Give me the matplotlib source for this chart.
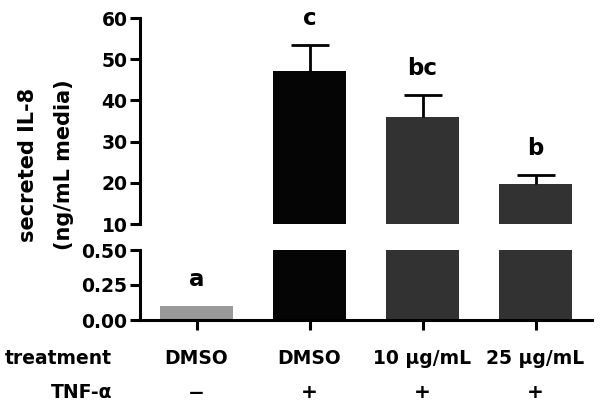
import matplotlib.pyplot as plt
import numpy as np

# IL-8 secretion per treatment group
treatments = ["DMSO", "DMSO", "10 μg/mL", "25 μg/mL"]
tnf = ["−", "+", "+", "+"]
means = [0.1, 47.1, 36.0, 19.7]
sems = [0.0, 6.3, 5.3, 2.2]
letters = ["a", "c", "bc", "b"]
colors = ["#9a9a9a", "#050505", "#323232", "#323232"]

top_ticks = [10, 20, 30, 40, 50, 60]
low_ticks = [0.00, 0.25, 0.50]

plt.rcParams['font.family'] = ['DejaVu Sans']
plt.rcParams['font.weight'] = 'bold'

fig = plt.figure(figsize=(6.01, 4.13), dpi=100)
ax_top = fig.add_axes([140 / 601, 1 - 224 / 413, 452 / 601, 206 / 413])
ax_low = fig.add_axes([140 / 601, 1 - 320 / 413, 452 / 601, 70 / 413])

x = np.arange(len(means))
lw = 2.2
px = 0.72  # points per pixel at 100 dpi

for ax in (ax_top, ax_low):
    ax.bar(x, means, width=0.65, color=colors, zorder=2)
    for i in range(len(means)):
        if sems[i] <= 0:
            continue
        _, caps, _ = ax.errorbar(x[i], means[i], yerr=[[0], [sems[i]]], fmt='none',
                                 ecolor='black', elinewidth=2, capsize=14,
                                 capthick=2, zorder=3)
        caps[0].remove()  # only the upper cap
    ax.set_xlim(-0.5, 3.5)
    ax.spines['top'].set_visible(False)
    ax.spines['right'].set_visible(False)
    ax.spines['left'].set_linewidth(lw)
    ax.spines['bottom'].set_linewidth(lw)
    ax.tick_params(axis='y', length=7, width=lw, labelsize=13.5, pad=2)
    ax.set_facecolor('none')

ax_top.set_ylim(10, 60)
ax_top.set_yticks(top_ticks)
ax_top.spines['bottom'].set_visible(False)
ax_top.set_xticks([])

ax_low.set_ylim(0, 0.5)
ax_low.set_yticks(low_ticks)
ax_low.set_yticklabels(["%.2f" % t for t in low_ticks])
ax_low.set_xticks(x)
ax_low.set_xticklabels([])
ax_low.tick_params(axis='x', length=7, width=lw)

# significance letters
for i, (m, s, l) in enumerate(zip(means, sems, letters)):
    ax = ax_low if m < 0.5 else ax_top
    ax.annotate(l, xy=(i, m + s), xytext=(0, 20 * px), textcoords='offset points',
                ha='center', va='baseline', fontsize=16.5, fontweight='bold')

# y label
fig.text(28 / 601, 1 - 165 / 413, "secreted IL-8", rotation=90, ha='center',
         va='center', fontsize=15, fontweight='bold')
fig.text(64 / 601, 1 - 165 / 413, "(ng/mL media)", rotation=90, ha='center',
         va='center', fontsize=15, fontweight='bold')

# treatment table under the axis
fig.text(112 / 601, 1 - 359 / 413, "treatment", ha='right', va='center',
         fontsize=13.5, fontweight='bold')
fig.text(112 / 601, 1 - 393 / 413, "TNF-α", ha='right', va='center',
         fontsize=13.5, fontweight='bold')
for i, (t, f) in enumerate(zip(treatments, tnf)):
    ax_low.annotate(t, xy=(i, 0), xycoords=('data', 'axes fraction'),
                    xytext=(0, -39 * px), textcoords='offset points',
                    ha='center', va='center', fontsize=13.5, fontweight='bold')
    ax_low.annotate(f, xy=(i, 0), xycoords=('data', 'axes fraction'),
                    xytext=(0, -73 * px), textcoords='offset points',
                    ha='center', va='center', fontsize=14.5, fontweight='bold')

fig.savefig("out.png", dpi=100)
